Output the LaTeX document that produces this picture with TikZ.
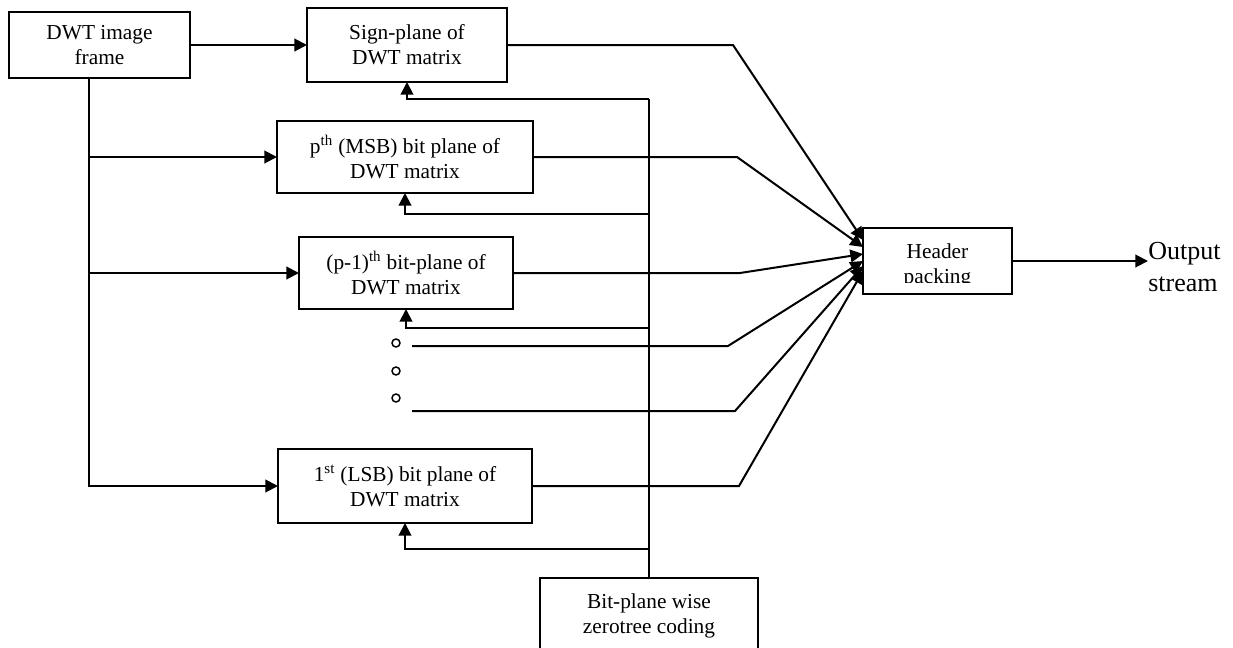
\documentclass[tikz,border=0pt]{standalone}
\usepackage{fontspec}
\setmainfont{Liberation Serif}
\usetikzlibrary{arrows.meta,calc}
\begin{document}
\begin{tikzpicture}[x=0.75pt,y=-0.75pt,
  boxtxt/.style={align=center,font=\fontsize{16pt}{18.75pt}\selectfont},
  box/.style={boxtxt,draw,line width=1.5pt,inner sep=0pt,outer sep=0pt},
  conn/.style={line width=1.5pt},
  arr/.style={conn,-{Triangle[length=9.5pt,width=9.5pt]}},
  dot/.style={circle,draw,line width=1.1pt,minimum size=6pt,inner sep=0pt}]
\useasboundingbox (0,0) rectangle (1233,647);

% boxes
\node[box,minimum width=135.75pt,minimum height=49.5pt] (dwt) at (99.5,45) {DWT image\\frame};
\node[box,minimum width=150pt,minimum height=55.5pt] (sign) at (407,45) {Sign-plane of\\DWT matrix};
\node[box,minimum width=192pt,minimum height=54pt] (msb) at (405,157) {p\textsuperscript{th} (MSB) bit plane of\\DWT matrix};
\node[box,minimum width=160.5pt,minimum height=54pt] (pm1) at (406,273) {(p-1)\textsuperscript{th} bit-plane of\\DWT matrix};
\node[box,minimum width=190.5pt,minimum height=55.5pt] (lsb) at (405,486) {1\textsuperscript{st} (LSB) bit plane of\\DWT matrix};
\node[box,minimum width=111.75pt,minimum height=49.5pt] (hdr) at (937.5,261) {};
\begin{scope}
  \clip (863,228) rectangle (1012,282.5);
  \node[boxtxt,inner sep=0pt] (hdrtxt) at (937.5,265.5) {Header\\packing};
\end{scope}
\node[box,minimum width=163.5pt,minimum height=56.25pt] (zt) at (649,615.5) {Bit-plane wise\\zerotree coding};
\node[align=left,anchor=west,inner sep=0pt,font=\fontsize{19.5pt}{24pt}\selectfont] (out) at (1148,267) {Output\\stream};

% dots
\node[dot] (o1) at (396,343) {};
\node[dot] (o2) at (396,371) {};
\node[dot] (o3) at (396,398) {};

% input distribution
\coordinate (trunk) at (89,486);
\draw[arr] (dwt.east |- sign.west) -- (sign.west);
\draw[arr] (dwt.south -| trunk) -- (trunk) -- (lsb.west);
\draw[arr] (trunk |- msb.west) -- (msb.west);
\draw[arr] (trunk |- pm1.west) -- (pm1.west);

% feedback bus
\coordinate (f1) at ($(zt.north |- 0,99)$);
\coordinate (f2) at ($(zt.north |- 0,214)$);
\coordinate (f3) at ($(zt.north |- 0,328)$);
\coordinate (f4) at ($(zt.north |- 0,549)$);
\draw[conn] (zt.north) -- (f1);
\draw[arr] (f1) -| (sign.south);
\draw[arr] (f2) -| (msb.south);
\draw[arr] (f3) -| (pm1.south);
\draw[arr] (f4) -| (lsb.south);

% outputs to header
\coordinate (k1) at (733,45);
\coordinate (k2) at (737,155);
\coordinate (k3) at (740,275);
\coordinate (d1s) at (412,346);
\coordinate (k4) at (728,346);
\coordinate (d2s) at (412,411);
\coordinate (k5) at (735,411);
\coordinate (k6) at (739,487);
\draw[arr] (sign.east) -- (sign.east -| k1) -- ([yshift=15.75pt]hdr.west);
\draw[arr] (msb.east) -- (msb.east -| k2) -- ([yshift=10.5pt]hdr.west);
\draw[arr] (pm1.east) -- (pm1.east -| k3) -- ([yshift=5.25pt]hdr.west);
\draw[arr] (d1s) -- (k4) -- (hdr.west);
\draw[arr] (d2s) -- (k5) -- ([yshift=-3.75pt]hdr.west);
\draw[arr] (lsb.east) -- (lsb.east -| k6) -- ([yshift=-7.5pt]hdr.west);

% output
\draw[arr] (hdr.east) -- (hdr.east -| out.west);
\end{tikzpicture}
\end{document}
